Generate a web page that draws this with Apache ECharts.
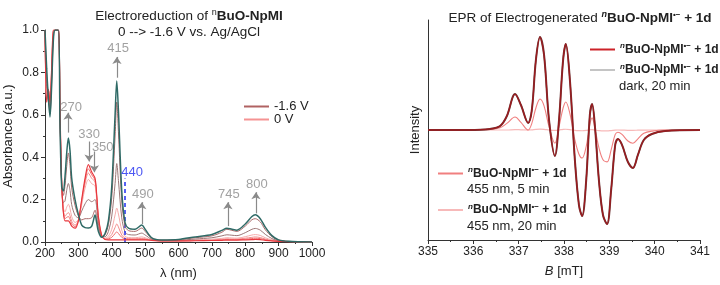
<!DOCTYPE html>
<html>
<head>
<meta charset="utf-8">
<script src="https://cdn.jsdelivr.net/npm/echarts@6/dist/echarts.min.js"></script>
<style>html,body{margin:0;padding:0;background:#fff}#main{width:720px;height:285px}</style>
</head>
<body>
<div id="main"></div>
<script>
// spectra (absorbance vs wavelength)
const wavelengths = [200,205,210,215,220,225,230,240,245,250,255,260,265,270,275,280,290,300,310,320,330,340,350,355,360,370,380,390,400,410,415,420,430,440,450,470,490,500,520,550,600,650,700,730,745,760,775,800,820,830,845,860,880,900,930,1000];
const absV0 = [1.0,0.66,0.72,0.66,0.82,1.0,1.0,1.0, 0.62,0.28,0.14,0.1,0.1,0.1,0.09,0.075, 0.065,0.1,0.2,0.3,0.365,0.33,0.3,0.22, 0.12,0.03,0.012,0.01,0.01,0.01,0.01,0.01, 0.01,0.01,0.01,0.01,0.01,0.01,0.008,0.005, 0.005,0.006,0.007,0.008,0.009,0.009,0.009,0.01, 0.011,0.012,0.011,0.008,0.005,0.003,0.002,0];
const absStep1 = [1.0,0.668,0.718,0.657,0.816,0.998,1.0,1.0, 0.617,0.279,0.145,0.11,0.116,0.12,0.107,0.086, 0.072,0.102,0.194,0.288,0.345,0.317,0.291,0.213, 0.116,0.03,0.013,0.015,0.022,0.04,0.048,0.04, 0.022,0.014,0.013,0.013,0.014,0.013,0.009,0.005, 0.005,0.007,0.008,0.01,0.012,0.012,0.011,0.014, 0.016,0.018,0.016,0.011,0.006,0.003,0.002,0];
const absStep2 = [1.0,0.676,0.716,0.653,0.812,0.995,1.0,1.0, 0.613,0.278,0.15,0.121,0.132,0.139,0.124,0.098, 0.079,0.103,0.188,0.277,0.325,0.3,0.283,0.207, 0.113,0.029,0.015,0.019,0.035,0.069,0.085,0.071, 0.033,0.018,0.016,0.015,0.017,0.015,0.009,0.006, 0.006,0.008,0.01,0.013,0.015,0.014,0.014,0.018, 0.022,0.024,0.021,0.014,0.008,0.004,0.002,0];
const absStep3 = [1.0,0.692,0.712,0.646,0.804,0.99,1.0,1.0, 0.606,0.276,0.16,0.142,0.164,0.178,0.158,0.12, 0.092,0.106,0.176,0.254,0.295,0.275,0.265,0.194, 0.106,0.028,0.018,0.028,0.06,0.128,0.16,0.132, 0.056,0.026,0.021,0.02,0.024,0.02,0.01,0.006, 0.006,0.01,0.013,0.017,0.02,0.019,0.018,0.025, 0.033,0.035,0.031,0.02,0.01,0.004,0.002,0];
const absStep4 = [1.0,0.732,0.702,0.629,0.784,0.978,1.0,1.0, 0.589,0.271,0.185,0.194,0.244,0.276,0.243,0.176, 0.126,0.114,0.146,0.18,0.2,0.19,0.2,0.161, 0.088,0.026,0.025,0.05,0.122,0.276,0.37,0.29, 0.114,0.046,0.035,0.033,0.042,0.033,0.013,0.007, 0.008,0.014,0.02,0.029,0.034,0.032,0.03,0.044, 0.06,0.064,0.056,0.036,0.016,0.006,0.002,0];
const absStep5 = [1.0,0.788,0.688,0.604,0.756,0.96,1.0,1.0, 0.564,0.264,0.22,0.268,0.356,0.42,0.362,0.255, 0.173,0.124,0.104,0.11,0.11,0.115,0.15,0.116, 0.064,0.024,0.034,0.082,0.21,0.5,0.66,0.52, 0.194,0.074,0.054,0.05,0.066,0.05,0.018,0.009, 0.011,0.02,0.029,0.046,0.06,0.055,0.05,0.075, 0.105,0.11,0.095,0.058,0.025,0.009,0.003,0];
const absV16 = [1.0,0.82,0.68,0.59,0.74,0.95,1.0,1.0, 0.55,0.26,0.24,0.31,0.42,0.49,0.43,0.3, 0.2,0.13,0.08,0.068,0.066,0.075,0.127,0.09, 0.05,0.022,0.04,0.1,0.26,0.6,0.76,0.62, 0.24,0.09,0.065,0.06,0.08,0.06,0.02,0.01, 0.012,0.024,0.035,0.055,0.065,0.06,0.056,0.085, 0.12,0.128,0.11,0.07,0.03,0.01,0.003,0];

// peak annotations (text, where it sits, arrow from -> to)
const peakLabels = ['270','330','350','415','490','745','800'];
const peakTextAt = [[278,0.634],[332,0.507],[373,0.446],[419,0.911],[493,0.225],[751,0.225],[835,0.272]];
const peakArrows = [[[269,0.516],[269,0.61]],[[332,0.474],[332,0.38]],[[348,0.427],[348,0.329]],[[415.5,0.775],[415.5,0.873]],[[490,0.085],[490,0.188]],[[748,0.075],[748,0.188]],[[832,0.135],[832,0.235]]];
const markerNm = 440, markerTop = 0.3, markerTextAt = [461, 0.329];

// EPR spectra (derivative signal, arbitrary units)
const fieldB = [335.0,335.9,336.37,336.59,336.74,336.92,337.05,337.21,337.29,337.38,337.47,337.56,337.67,337.80,337.89,337.98,338.04,338.13,338.24,338.33,338.40,338.49,338.57,338.62,338.68,338.77,338.86,338.95,339.04,339.13,339.19,339.28,339.41,339.52,339.63,339.76,339.94,340.23,341.0];
const eprElectro = [0,0,0.01,0.036,0.127,0.327,0.227,0.064,0.18,0.636,0.845,0.682,0.09,-0.236,0.09,0.636,0.782,0.455,-0.273,-0.682,-0.782,-0.455,0.136,0.236,0.045,-0.455,-0.773,-0.855,-0.545,-0.136,-0.082,-0.136,-0.291,-0.345,-0.227,-0.091,-0.036,-0.009,0];
const eprDark20 = eprElectro.slice();
const eprLight5 = [0,0,0.005,0.02,0.06,0.118,0.07,0.0,0.06,0.2,0.282,0.22,0.03,-0.12,0.03,0.2,0.255,0.15,-0.09,-0.22,-0.255,-0.15,0.05,0.11,0.02,-0.16,-0.27,-0.29,-0.18,-0.04,-0.02,-0.04,-0.1,-0.12,-0.08,-0.03,-0.01,0,0];
const eprLight20 = [0,0,0,0,0,0.004,0.002,0,0.002,0.006,0.008,0.006,0,-0.004,0,0.006,0.007,0.004,-0.003,-0.006,-0.007,-0.004,0.002,0.003,0,-0.005,-0.008,-0.008,-0.005,-0.001,0,-0.001,-0.003,-0.003,-0.002,-0.001,0,0,0];

const FONT = '"Liberation Sans", Arial, sans-serif';
const zip = (xs, ys) => xs.map((x, i) => [x, ys[i]]);
const LINE_ICON = 'path://M0,0 L25,0 L25,2 L0,2 Z';

const chart = echarts.init(document.getElementById('main'));

const rich = {
    t: {fontFamily: FONT, fontSize: 13.5, color: '#222', fontWeight: 'normal'},
    tb: {fontFamily: FONT, fontSize: 13.5, color: '#222', fontWeight: 'bold'},
    tn: {fontFamily: FONT, fontSize: 9, color: '#222', fontWeight: 'normal', padding: [0, 0, 8, 0]},
    ti: {fontFamily: FONT, fontSize: 9, color: '#222', fontStyle: 'italic', fontWeight: 'bold', padding: [0, 0, 8, 0]},
    b: {fontFamily: FONT, fontSize: 12, color: '#222', fontWeight: 'bold'},
    n: {fontFamily: FONT, fontSize: 8, color: '#222', fontStyle: 'italic', fontWeight: 'bold', padding: [0, 0, 7, 0]},
    s: {fontFamily: FONT, fontSize: 8, color: '#222', fontWeight: 'bold', padding: [0, 0, 7, 0]}
};
const nameText = '{n|n}{b|BuO-NpMI}{s|•−}{b| + 1d}';

function uvLine(name, data, color, width, z) {
    return {
        name, type: 'line', xAxisIndex: 0, yAxisIndex: 0,
        data: zip(wavelengths, data), symbol: 'none', smooth: 0.3, z: z,
        lineStyle: {color, width}, itemStyle: {color}
    };
}

function eprLine(name, data, color, width, z) {
    return {
        name, type: 'line', xAxisIndex: 1, yAxisIndex: 1,
        data: zip(fieldB, data), symbol: 'none', smooth: 0.35, z: z,
        lineStyle: {color, width}, itemStyle: {color}
    };
}

const axisCommon = {
    axisLine: {onZero: false, lineStyle: {color: '#333', width: 1}},
    axisTick: {length: 4, lineStyle: {color: '#333'}},
    minorTick: {show: true, splitNumber: 2, length: 2, lineStyle: {color: '#333'}},
    splitLine: {show: false},
    axisLabel: {fontFamily: FONT, fontSize: 12, color: '#222', margin: 6, formatter: v => String(v)},
    nameTextStyle: {fontFamily: FONT, fontSize: 13, color: '#222'}
};

const teal = uvLine('-1.6 V', absV16, '#2f6a66', 1.5, 9);
teal.markLine = {
    silent: true, symbol: ['none', 'arrow'], symbolSize: 7, animation: false,
    label: {show: false},
    lineStyle: {color: '#8a8a8a', width: 1.2, type: 'solid'},
    data: peakArrows.map(([a, b]) => [{coord: a}, {coord: b}]).concat([[
        {coord: [markerNm, 0], symbol: 'none', lineStyle: {color: '#1f2df0', type: [4, 3], width: 1.5}},
        {coord: [markerNm, markerTop], symbol: 'none'}
    ]])
};

const option = {
    animation: false,
    backgroundColor: '#fff',
    title: [{
        text: '{t|Electroreduction of }{tn|n}{tb|BuO-NpMI}',
        subtext: '0 --> -1.6 V vs. Ag/AgCl',
        left: 184, top: 3, textAlign: 'center', itemGap: 2,
        textStyle: {rich},
        subtextStyle: {fontFamily: FONT, fontSize: 13.5, color: '#222'}
    }, {
        text: '{t|EPR of Electrogenerated }{ti|n}{tb|BuO-NpMI}{s|•−}{tb| + 1d}',
        left: 575, top: 5, textAlign: 'center',
        textStyle: {rich}
    }],
    legend: [{
        orient: 'vertical', left: 244, top: 100, padding: 0, itemWidth: 25, itemHeight: 14, itemGap: 0,
        icon: LINE_ICON,
        textStyle: {fontFamily: FONT, fontSize: 13, color: '#222'},
        data: [
            {name: '-1.6 V', itemStyle: {color: '#b06262'}},
            {name: '0 V', itemStyle: {color: '#f59393'}}
        ]
    }, {
        orient: 'vertical', left: 590, top: 42, padding: 0, itemWidth: 25, itemHeight: 14, itemGap: 7,
        icon: LINE_ICON,
        formatter: () => nameText,
        textStyle: {rich},
        data: [
            {name: 'electro', itemStyle: {color: '#cc2229'}},
            {name: 'dark20', itemStyle: {color: '#c4c4c4'}}
        ]
    }, {
        orient: 'vertical', left: 438, top: 166, padding: 0, itemWidth: 25, itemHeight: 14, itemGap: 23,
        icon: LINE_ICON,
        formatter: () => nameText,
        textStyle: {rich},
        data: [
            {name: 'light5', itemStyle: {color: '#f07f7f'}},
            {name: 'light20', itemStyle: {color: '#f7b9b9'}}
        ]
    }],
    graphic: [
        {type: 'text', left: 619, top: 80, style: {text: 'dark, 20 min', font: '13px ' + FONT, fill: '#222'}},
        {type: 'text', left: 467, top: 183, style: {text: '455 nm, 5 min', font: '13px ' + FONT, fill: '#222'}},
        {type: 'text', left: 467, top: 220, style: {text: '455 nm, 20 min', font: '13px ' + FONT, fill: '#222'}}
    ],
    grid: [
        {left: 45, top: 30, width: 267, height: 213},
        {left: 428, top: 20, width: 272, height: 220}
    ],
    xAxis: [Object.assign({}, axisCommon, {
        gridIndex: 0, type: 'value', min: 200, max: 1000, interval: 100,
        name: 'λ (nm)', nameLocation: 'middle', nameGap: 25
    }), Object.assign({}, axisCommon, {
        gridIndex: 1, type: 'value', min: 335, max: 341, interval: 1,
        name: '{i|B} [mT]', nameLocation: 'middle', nameGap: 25,
        nameTextStyle: {fontFamily: FONT, fontSize: 13, color: '#222',
            rich: {i: {fontFamily: FONT, fontSize: 13, color: '#222', fontStyle: 'italic'}}}
    })],
    yAxis: [Object.assign({}, axisCommon, {
        gridIndex: 0, type: 'value', min: 0, max: 1, interval: 0.2,
        axisLabel: Object.assign({}, axisCommon.axisLabel, {formatter: v => v.toFixed(1)}),
        name: 'Absorbance (a.u.)', nameLocation: 'middle', nameGap: 30
    }), Object.assign({}, axisCommon, {
        gridIndex: 1, type: 'value', min: -1, max: 1,
        axisTick: {show: false}, minorTick: {show: false}, axisLabel: {show: false},
        name: 'Intensity', nameLocation: 'middle', nameGap: 6
    })],
    series: [
        uvLine('0 V', absV0, '#e8363c', 1.2, 8),
        uvLine('step1', absStep1, '#f06c6c', 1, 3),
        uvLine('step2', absStep2, '#f38c8c', 1, 3),
        uvLine('step3', absStep3, '#f6aaaa', 1, 3),
        uvLine('step4', absStep4, '#9c7676', 1, 4),
        uvLine('step5', absStep5, '#a86a6a', 1, 5),
        teal,
        {
            type: 'scatter', xAxisIndex: 0, yAxisIndex: 0, symbolSize: 0, silent: true, z: 12,
            data: peakTextAt.map((p, i) => ({value: [p[0], p[1], peakLabels[i]]}))
                .concat([{value: [markerTextAt[0], markerTextAt[1], String(markerNm)], label: {color: '#1f2df0'}}]),
            label: {show: true, position: 'inside', formatter: p => p.value[2],
                fontFamily: FONT, fontSize: 13, color: '#8a8a8a'}
        },
        eprLine('light20', eprLight20, '#f7b9b9', 1.2, 2),
        eprLine('light5', eprLight5, '#f07f7f', 1.1, 3),
        eprLine('dark20', eprDark20, '#6e3a3a', 2, 4),
        eprLine('electro', eprElectro, '#9c1a1e', 1.3, 5)
    ]
};

chart.setOption(option);
</script>
</body>
</html>
